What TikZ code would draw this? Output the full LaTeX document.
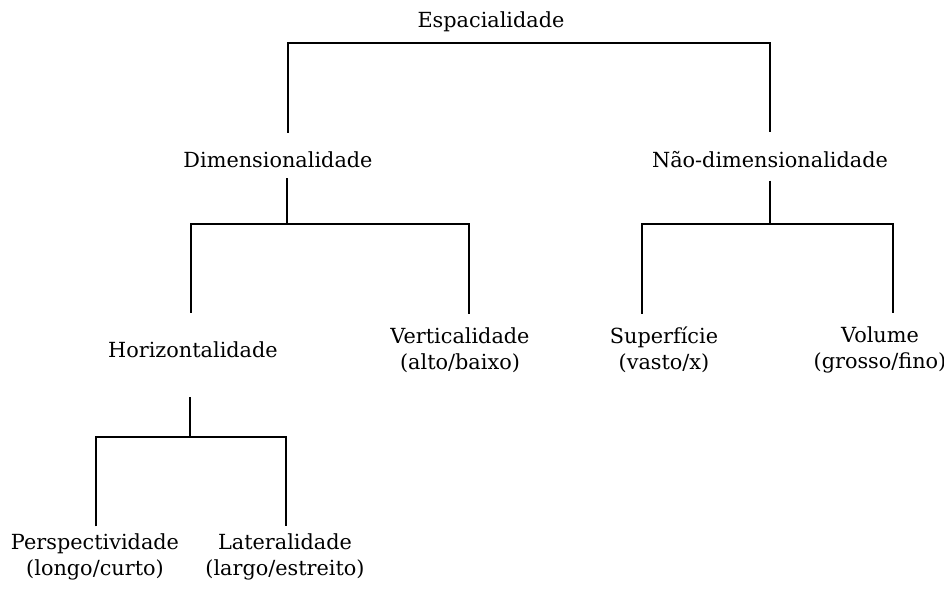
\documentclass[tikz,border=0pt]{standalone}
\usepackage{fontspec}
\setmainfont{DejaVu Serif}
\usepackage{tikz}

\tikzset{
  termo/.style={align=center, inner sep=0pt, font=\fontsize{10.4}{13}\selectfont},
  ramo/.style={line width=0.7pt}
}

\begin{document}
\begin{tikzpicture}[x=0.5pt, y=-0.5pt]
\useasboundingbox (0,0) rectangle (944,597);

\node[termo](esp) at (491,22){Espacialidade};

\node[termo](dim) at (278,160){Dimensionalidade};
\node[termo](ndim) at (770,160){Não-dimensionalidade};

\node[termo](hor) at (193,350){Horizontalidade};
\node[termo](vert) at (460,350){Verticalidade\\(alto/baixo)};
\node[termo](sup) at (664,350){Superfície\\(vasto/x)};
\node[termo](vol) at (880,350){Volume\\(grosso/fino)};

\node[termo](persp) at (95,557){Perspectividade\\(longo/curto)};
\node[termo](lat) at (285,557){Lateralidade\\(largo/estreito)};

% bar corners
\coordinate (espL) at (288,43);
\coordinate (espR) at (770,43);
\coordinate (dimJ) at (287,224);
\coordinate (dimL) at (191,224);
\coordinate (dimR) at (469,224);
\coordinate (ndimJ) at (770,224);
\coordinate (ndimL) at (642,224);
\coordinate (ndimR) at (893,224);
\coordinate (horJ) at (190,437);
\coordinate (horL) at (96,437);
\coordinate (horR) at (286,437);

\draw[ramo, shorten <=9.5pt, shorten >=9.5pt](dim.north -| espL)--(espL)--(espR)--(ndim.north -| espR);

\draw[ramo, shorten <=5pt](dim.south -| dimJ)--(dimJ);
\draw[ramo, shorten <=14.5pt, shorten >=6.5pt](hor.north -| dimL)--(dimL)--(dimR)--(vert.north -| dimR);

\draw[ramo, shorten <=6pt](ndim.south -| ndimJ)--(ndimJ);
\draw[ramo, shorten <=6.5pt, shorten >=6.5pt](sup.north -| ndimL)--(ndimL)--(ndimR)--(vol.north -| ndimR);

\draw[ramo, shorten <=19.5pt](hor.south -| horJ)--(horJ);
\draw[ramo, shorten <=3.5pt, shorten >=3.5pt](persp.north -| horL)--(horL)--(horR)--(lat.north -| horR);

\end{tikzpicture}
\end{document}
